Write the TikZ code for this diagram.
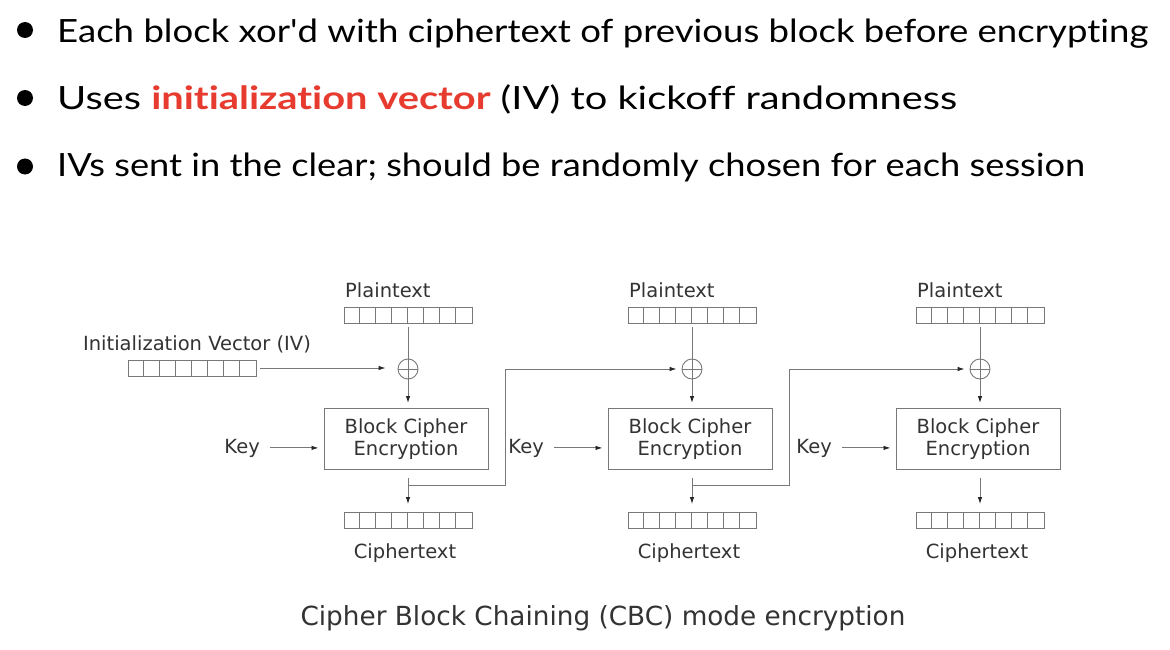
\documentclass[tikz,border=0pt]{standalone}
\usepackage{fontspec}
\usepackage{graphicx}
\setmainfont{Lato}[Ligatures={NoCommon}]
\newfontfamily\djv{DejaVu Sans}
\usetikzlibrary{arrows.meta,calc}

\definecolor{ln}{HTML}{787878}
\definecolor{tx}{HTML}{333333}
\definecolor{hot}{HTML}{E63B2E}

\tikzset{
  dtext/.style={font=\djv\fontsize{19.5}{22.4}\selectfont, text=tx, inner sep=0pt},
  reg/.style={draw=ln, line width=0.9pt, minimum width=128pt, minimum height=16pt, inner sep=0pt},
  xorop/.style={draw=ln, line width=0.9pt, circle, minimum size=20pt, inner sep=0pt,
    path picture={\draw[ln, line width=0.9pt]
      (path picture bounding box.north) -- (path picture bounding box.south)
      (path picture bounding box.west) -- (path picture bounding box.east);}},
  cipherbox/.style={draw=ln, line width=1pt, minimum width=164pt, minimum height=61pt,
    align=center, dtext},
  wire/.style={draw=ln, line width=0.9pt},
  arr/.style={wire, -{Latex[length=7pt,width=4.5pt,color=black!85]}},
  bul/.style={font=\fontsize{32}{38}\selectfont, inner sep=0pt, anchor=base west},
}

% draws the seven dividers of an 8-cell register node
\newcommand{\cells}[1]{%
  \foreach \k in {1,...,7}
    \draw[ln, line width=0.9pt] ([xshift=\k*16pt]#1.south west) -- ([xshift=\k*16pt]#1.north west);}

\begin{document}
\begin{tikzpicture}[x=1pt, y=-1pt]
\useasboundingbox[fill=white] (0,0) rectangle (1170,650);

% bullet list
\foreach \yy in {30, 98, 166.5}
  \fill (25,\yy) circle (8pt);
\node[bul] (l1) at (57,43) {\resizebox{1091pt}{\height}{Each block xor\textquotesingle d with ciphertext of previous block before encrypting}};
\node[bul] (l2) at (57,110) {\resizebox{900pt}{\height}{Uses {\color{hot}\bfseries initialization vector} (IV) to kickoff randomness}};
\node[bul] (l3) at (57,176) {\resizebox{1028pt}{\height}{IVs sent in the clear; should be randomly chosen for each session}};

% three encryption stages
\foreach \i/\c in {1/408, 2/692, 3/980} {
  \node[reg] (p\i) at (\c,315) {};
  \cells{p\i}
  \node[dtext, anchor=base west] (pl\i) at (\c-63,297) {Plaintext};
  \node[xorop] (x\i) at (\c,369) {};
  \node[cipherbox] (b\i) at (\c-2,439) {Block Cipher\\Encryption};
  \node[reg] (c\i) at (\c,520.5) {};
  \cells{c\i}
  \node[dtext, anchor=base] (cl\i) at (\c-3,558) {Ciphertext};
  \node[dtext, anchor=base east] (k\i) at (\c-2-82-64,453) {Key};
  \coordinate (j\i) at (\c,485);

  \draw[wire, shorten <=4pt] (p\i.south) -- (x\i.north);
  \draw[arr, shorten >=5pt] (x\i.south) -- (x\i.south |- b\i.north);
  \draw[arr, shorten <=8pt, shorten >=8pt] (b\i.south -| x\i.south) -- (c\i.north);
  \draw[arr, shorten <=10pt, shorten >=5pt] (k\i.east) -- (k\i.east -| b\i.west);
}

% initialization vector
\node[reg] (iv) at (192,368) {};
\cells{iv}
\node[dtext, anchor=base] (ivl) at (197,350) {Initialization Vector (IV)};
\draw[arr, shorten <=4pt, shorten >=12pt] (iv.east) -- (iv.east -| x1.west);

% chaining: each ciphertext feeds the next XOR
\draw[arr, shorten >=5pt] (j1) -| ([xshift=17pt]b1.east |- x2.west) -- (x2.west);
\draw[arr, shorten >=5pt] (j2) -| ([xshift=17pt]b2.east |- x3.west) -- (x3.west);

% caption
\node[font=\djv\fontsize{26.3}{30}\selectfont, text=tx, anchor=base, inner sep=0pt] (cap) at (603,625)
  {Cipher Block Chaining (CBC) mode encryption};
\end{tikzpicture}
\end{document}
